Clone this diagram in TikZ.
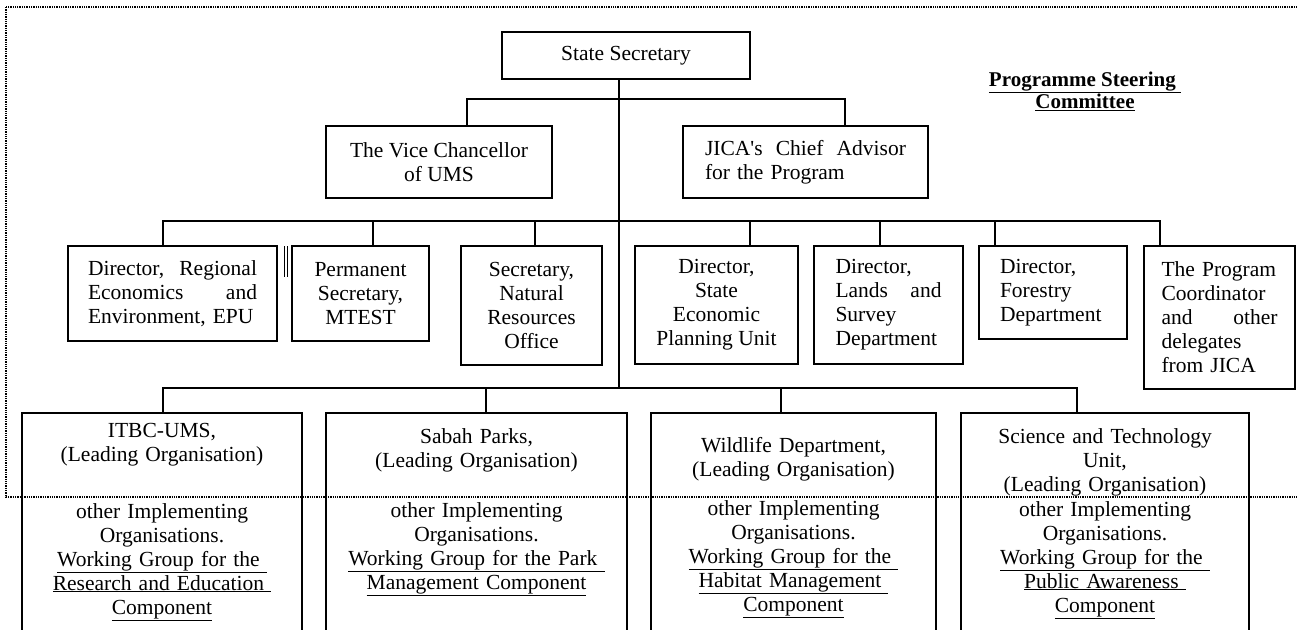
\documentclass[tikz,border=0pt]{standalone}
\usepackage{fontspec}
\setmainfont{Liberation Serif}
\hyphenpenalty=10000

\tikzset{
  org/.style={draw, line width=1.5pt, anchor=north west, inner sep=0pt, outer sep=0pt,
    font=\fontsize{21.5}{24}\selectfont},
  mid/.style={org, align=center},
  just/.style={org, align=left},
  group/.style={org, align=center, inner ysep=16pt, text height=14pt, text depth=220pt},
  link/.style={line width=1.5pt, line cap=rect},
}

\begin{document}
\begin{tikzpicture}[x=1pt,y=-1pt]
\useasboundingbox (0,0) rectangle (1297,629);
\clip (0,0) rectangle (1297,629);

% committee frame
\draw[densely dotted, line width=1.3pt] (6,7) rectangle (1330,497);

\node[mid, minimum width=248pt, minimum height=47pt] (ss) at (502,32) {State Secretary};

\node[mid, minimum width=226pt, minimum height=72pt] (vc) at (326,126) {The Vice Chancellor\\of UMS};
\node[just, text width=201pt, minimum width=245pt, minimum height=72pt] (jica) at (683,126)
  {JICA\textquotesingle s\hfill Chief\hfill Advisor\\for the Program};

\node[font=\bfseries\fontsize{21}{22}\selectfont, align=center] (psc) at (1085,91)
  {\underline{Programme Steering\ }\\\underline{Committee}};

\node[just, text width=169pt, minimum width=209pt, minimum height=95pt] (reg) at (68,246)
  {Director,\hfill Regional\\Economics\hfill and\\Environment, EPU};
\node[mid, minimum width=137pt, minimum height=95pt] (perm) at (292,246) {Permanent\\Secretary,\\MTEST};
\node[mid, minimum width=141pt, minimum height=119pt] (nat) at (461,246) {Secretary,\\Natural\\Resources\\Office};
\node[mid, minimum width=163pt, minimum height=118pt] (sepu) at (635,246) {Director,\\State\\Economic\\Planning Unit};
\node[just, text width=106pt, minimum width=149pt, minimum height=118pt] (lands) at (814,246)
  {Director,\\Lands\hfill and\\Survey\\Department};
\node[just, text width=106pt, minimum width=148pt, minimum height=93pt] (forest) at (979,246)
  {Director,\\Forestry\\Department};
\node[just, text width=116pt, minimum width=151pt, minimum height=143pt] (coord) at (1144,246)
  {\mbox{The Program}\\Coordinator\\and\hfill other\\delegates\\from JICA};

\node[group, text width=270pt, minimum width=280pt, inner ysep=10pt] (itbc) at (22,413)
  {ITBC-UMS,\\(Leading Organisation)\\[33pt]other Implementing\\Organisations.\\
   \underline{Working Group for the\ }\\\underline{Research and Education\ }\\\underline{Component}};
\node[group, text width=285pt, minimum width=301pt] (sabah) at (326,413)
  {Sabah Parks,\\(Leading Organisation)\\[26pt]other Implementing\\Organisations.\\
   \underline{Working Group for the Park\ }\\\underline{Management Component}};
\node[group, text width=270pt, minimum width=285pt, inner ysep=25pt] (wild) at (651,413)
  {Wildlife Department,\\(Leading Organisation)\\[15pt]other Implementing\\Organisations.\\
   \underline{Working Group for the\ }\\\underline{Habitat Management\ }\\\underline{Component}};
\node[group, text width=275pt, minimum width=288pt] (sci) at (961,413)
  {Science and Technology\\Unit,\\(Leading Organisation)\\[1pt]other Implementing\\Organisations.\\
   \underline{Working Group for the\ }\\\underline{Public Awareness\ }\\\underline{Component}};

\coordinate (b-vc) at (467,99);
\coordinate (b-jica) at (845,99);
\coordinate (b-reg) at (163,221);
\coordinate (b-perm) at (373,221);
\coordinate (b-nat) at (535,221);
\coordinate (b-sepu) at (750,221);
\coordinate (b-lands) at (880,221);
\coordinate (b-forest) at (995,221);
\coordinate (b-coord) at (1160,221);
\coordinate (b-itbc) at (163,388);
\coordinate (b-sabah) at (486,388);
\coordinate (b-wild) at (781,388);
\coordinate (b-sci) at (1077,388);
\coordinate (trunk) at (619,388);

\draw[link] (ss.south -| trunk) -- (trunk);
\draw[link] (b-vc) -- (b-jica);
\draw[link] (b-reg) -- (b-coord);
\draw[link] (b-itbc) -- (b-sci);
\foreach \b/\n in {b-vc/vc, b-jica/jica, b-reg/reg, b-perm/perm, b-nat/nat, b-sepu/sepu,
    b-lands/lands, b-forest/forest, b-coord/coord, b-itbc/itbc, b-sabah/sabah, b-wild/wild, b-sci/sci}
  \draw[link] (\b) -- (\b |- \n.north);

\draw[line width=1pt] (284,246) -- (284,277) (287,246) -- (287,277);
\end{tikzpicture}
\end{document}
